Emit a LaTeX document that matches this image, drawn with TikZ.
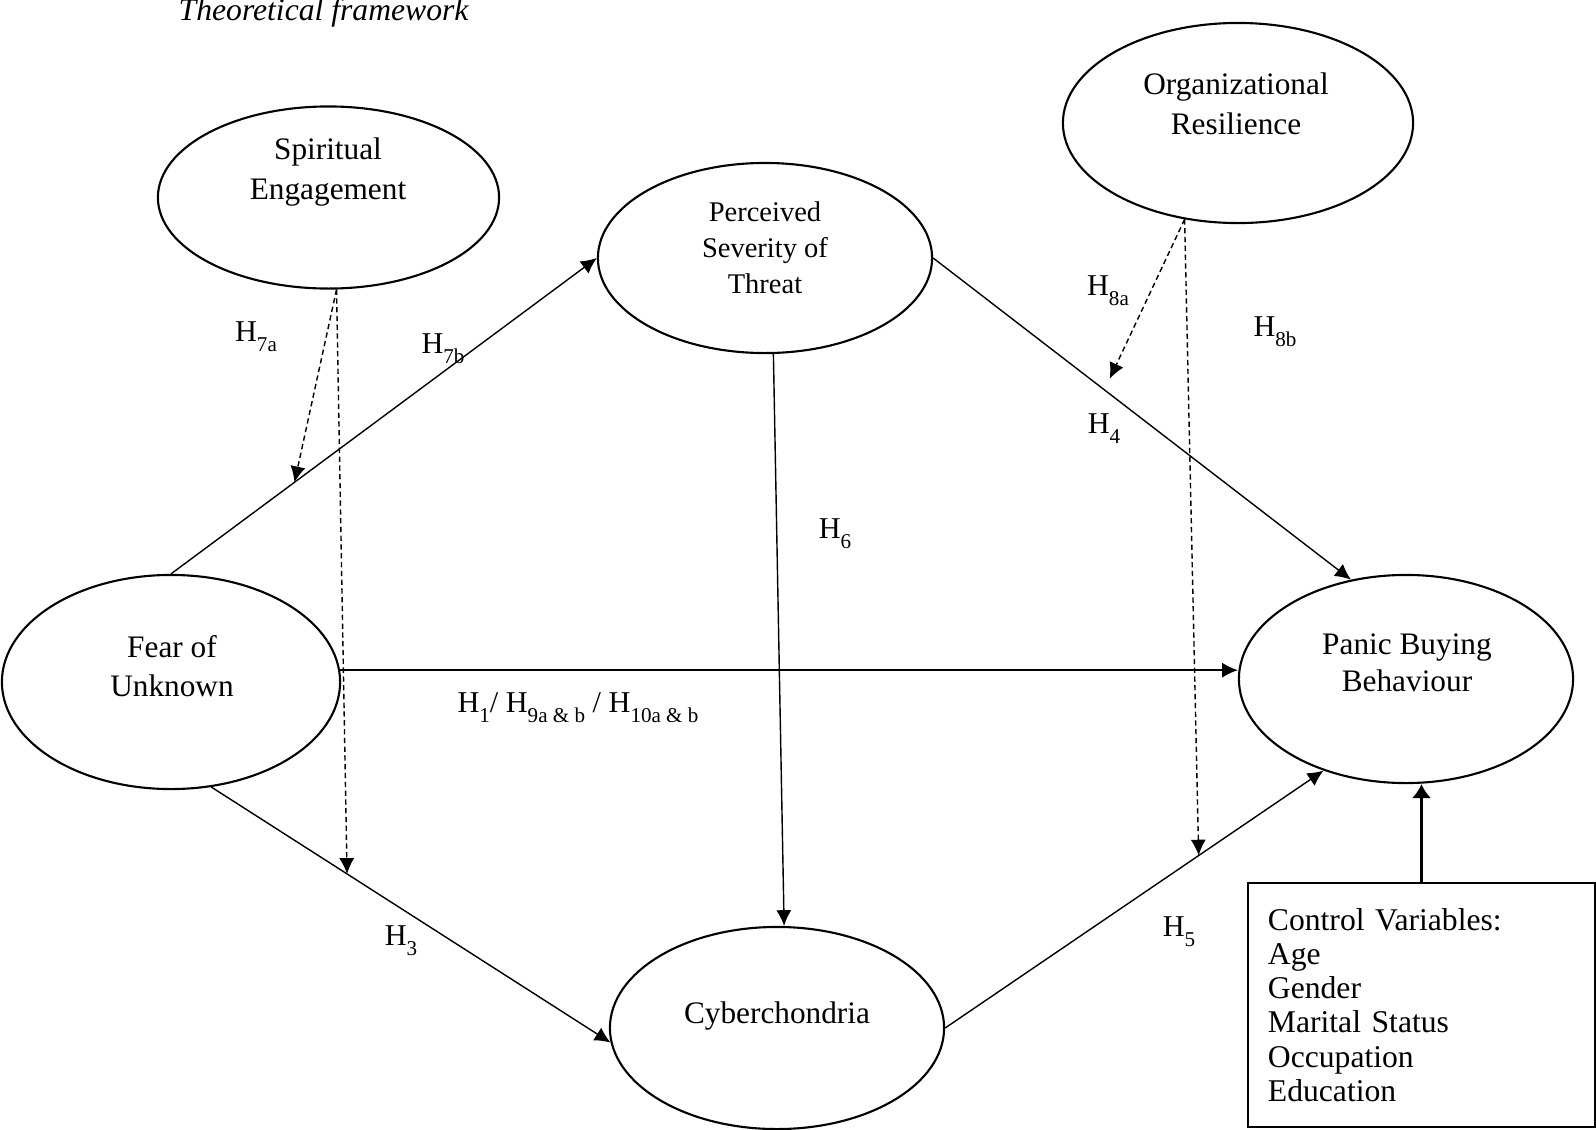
\documentclass[tikz,border=0pt]{standalone}
\usepackage{fontspec}
\setmainfont{Liberation Serif}
\usetikzlibrary{arrows.meta,shapes.geometric}

\newcommand{\hlab}[1]{H\raisebox{-2.8pt}{\fontsize{6}{6}\selectfont #1}}

\begin{document}
\begin{tikzpicture}[x=0.01cm,y=-0.01cm,
  var/.style={draw,ellipse,line width=0.6pt,inner sep=0pt},
  vartext/.style={align=center,inner sep=0pt,font=\fontsize{8.9}{11.3}\selectfont},
  hyp/.style={inner sep=0pt,font=\fontsize{8.6}{10}\selectfont},
  link/.style={line width=0.4pt,-{Latex[length=4.5pt,width=4.3pt]}},
  modlink/.style={link,dash pattern=on 1.5pt off 1pt}]

\useasboundingbox (0,0) rectangle (1596,1130);

\node[anchor=base west,inner sep=0pt,font=\fontsize{9}{11}\selectfont\itshape] (title) at (178,20) {Theoretical framework};

% constructs
\node[var,minimum width=3.41cm,minimum height=1.82cm] (spir) at (328.5,197.5) {};
\node[var,minimum width=3.34cm,minimum height=1.90cm] (perc) at (765,258) {};
\node[var,minimum width=3.50cm,minimum height=2.00cm] (org) at (1238,123) {};
\node[var,minimum width=3.38cm,minimum height=2.14cm] (fear) at (171,682) {};
\node[var,minimum width=3.34cm,minimum height=2.08cm] (panic) at (1406,679) {};
\node[var,minimum width=3.34cm,minimum height=2.02cm] (cyber) at (777,1028) {};

\node[vartext] (spirtxt) at (328,172) {Spiritual\\Engagement};
\node[vartext,font=\fontsize{8.1}{10.2}\selectfont] (perctxt) at (765,248) {Perceived\\Severity of\\Threat};
\node[vartext] (orgtxt) at (1236,104) {Organizational\\Resilience};
\node[vartext] (feartxt) at (172,666) {Fear of\\Unknown};
\node[vartext,font=\fontsize{8.9}{10.5}\selectfont] (panictxt) at (1407,663) {Panic Buying\\Behaviour};
\node[vartext] (cybertxt) at (777,1016) {Cyberchondria};

\node[draw,line width=0.6pt,minimum width=3.47cm,minimum height=2.44cm,
  text width=3.07cm,align=left,inner xsep=0.2cm,
  font=\fontsize{9}{9.7}\selectfont] (ctrl) at (1421.5,1005)
  {Control Variables:\\Age\\Gender\\Marital Status\\Occupation\\Education};

% direct paths
\draw[link] (fear.north) -- coordinate[pos=0.29] (m7a) (perc.west);
\draw[link] (perc.east) -- coordinate[pos=0.41] (m8a) (panic.119);
\draw[link] (perc.-85) -- (cyber.86);
\draw[link] (fear.4) -- (fear.4 -| panic.west);
\draw[link] (fear.-69) -- coordinate[pos=0.34] (m7b) (cyber.185);
\draw[link] (cyber.east) -- coordinate[pos=0.67] (m8b) (panic.228);
\draw[line width=1.1pt,-{Latex[length=4pt,width=5.6pt]}] (ctrl.north) -- (ctrl.north |- panic.south);

% moderating paths
\draw[modlink] (spir.-85) -- (m7a);
\draw[modlink] (spir.-85) -- (m7b);
\draw[modlink,shorten >=3.5pt] (org.241) -- (m8a);
\draw[modlink] (org.241) -- (m8b);

% hypotheses
\node[hyp] (h7a) at (256,337) {\hlab{7a}};
\node[hyp] (h7b) at (443,349) {\hlab{7b}};
\node[hyp] (h8a) at (1108,291) {\hlab{8a}};
\node[hyp] (h8b) at (1275,332) {\hlab{8b}};
\node[hyp] (h4) at (1104,429) {\hlab{4}};
\node[hyp] (h6) at (835,534) {\hlab{6}};
\node[hyp] (h1) at (578,708) {\hlab{1}/ \hlab{9a \& b} / \hlab{10a \& b}};
\node[hyp] (h3) at (401,941) {\hlab{3}};
\node[hyp] (h5) at (1179,932) {\hlab{5}};

\end{tikzpicture}
\end{document}
